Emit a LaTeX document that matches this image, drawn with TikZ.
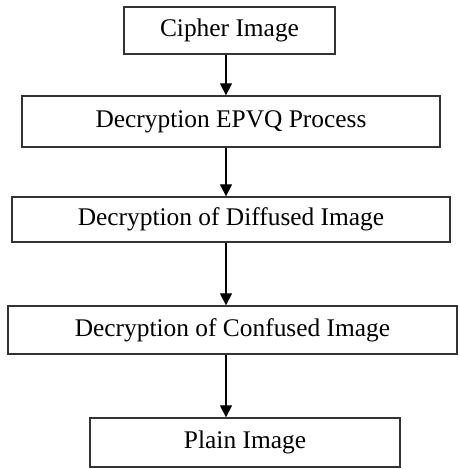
\documentclass[tikz,border=0pt]{standalone}
\usepackage{fontspec}
\setmainfont{Liberation Serif}
\usetikzlibrary{arrows.meta}
\begin{document}
\begin{tikzpicture}
    [x=1pt, y=-1pt,
    font=\fontsize{25.4}{30}\selectfont,
    block/.style={rectangle, draw=black!80, line width=1.3pt, inner sep=0pt, align=center},
    flow/.style={draw=black, line width=1.2pt, -{Triangle[length=12pt, width=12pt]}}
    ]
    \useasboundingbox (0,0) rectangle (459,469);
    \coordinate (spine) at (226,0);
    \node [block, minimum width=211pt, minimum height=47pt] (cipher) at (229.5,30.5) {Cipher Image};
    \node [block, minimum width=418pt, minimum height=51pt] (epvq) at (231,121.5) {Decryption EPVQ Process};
    \node [block, minimum width=438pt, minimum height=45pt] (diffused) at (231,219.5) {Decryption of Diffused Image};
    \node [block, minimum width=449pt, minimum height=48pt] (confused) at (232.5,330) {Decryption of Confused Image};
    \node [block, minimum width=310pt, minimum height=49pt] (plain) at (245,442.5) {Plain Image};
    % arrows all run down the same column
    \draw [flow] (cipher.south -| spine) -- (epvq.north -| spine);
    \draw [flow] (epvq.south -| spine) -- (diffused.north -| spine);
    \draw [flow] (diffused.south -| spine) -- (confused.north -| spine);
    \draw [flow] (confused.south -| spine) -- (plain.north -| spine);
\end{tikzpicture}
\end{document}
